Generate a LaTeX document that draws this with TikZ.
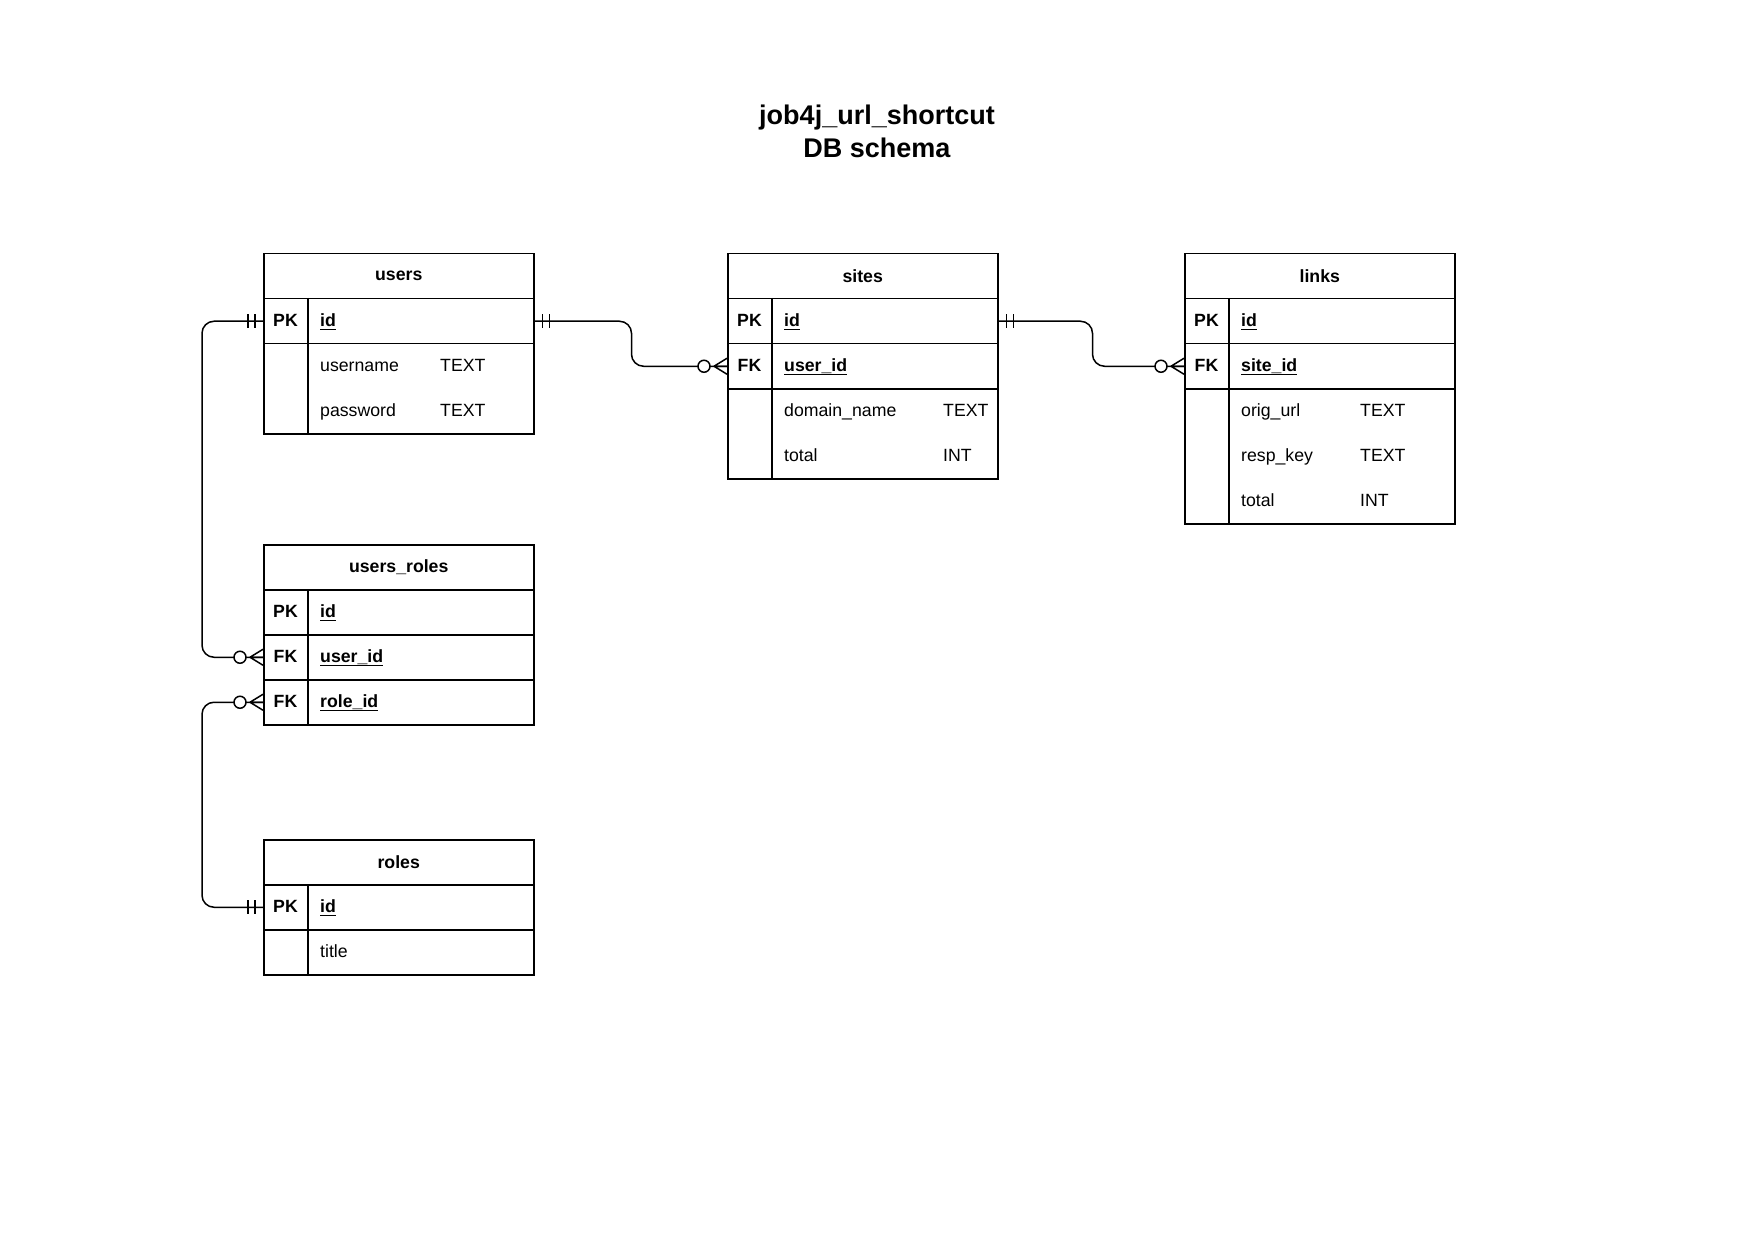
\documentclass[tikz,border=0pt]{standalone}
\usepackage{fontspec}
\setmainfont{Liberation Sans}
\newcommand\tabfont{\fontsize{17.7}{21}\selectfont}
\newcommand\ulx[1]{\setbox0\hbox{#1}\rlap{\rule[-3.6pt]{\wd0}{1.5pt}}\box0}
\newcommand\onemark[2]{\begin{scope}[shift={(#1)},xscale=#2]\draw[conn] (8,-7)--(8,7) (15,-7)--(15,7);\end{scope}}
\newcommand\crowmark[2]{\begin{scope}[shift={(#1)},xscale=#2]\draw[conn] (13,0)--(0,-8) (13,0)--(0,8) (13,0)--(0,0);\draw[conn,fill=white] (23,0) circle[radius=6pt];\end{scope}}
\begin{document}
\begin{tikzpicture}[x=1pt,y=-1pt,
  cell/.style={draw, line width=1.5pt, minimum width=270pt, inner sep=0pt, anchor=north west, font=\tabfont},
  head/.style={cell, minimum height=45pt, font=\tabfont\bfseries},
  key/.style={font=\tabfont\bfseries, inner sep=0pt},
  fld/.style={font=\tabfont, anchor=base west, inner sep=0pt},
  fldb/.style={fld, font=\tabfont\bfseries},
  divider/.style={line width=1.5pt},
  conn/.style={line width=1.5pt}]
\fill[white] (0,0) rectangle (1754,1241);
\useasboundingbox (0,0) rectangle (1754,1241);

\node[font=\bfseries\fontsize{27}{32.5}\selectfont, align=center] (title) at (877,131.5) {job4j\_url\_shortcut\\DB schema};

% users
\node[head] (users) at (263,253) {users};
\node[cell, minimum height=45pt] (usersPK) at (263,298) {};
\node[cell, minimum height=90pt] (usersA) at (263,343) {};
\draw[divider] (308,298) -- (308,433);
\node[key] (usersPKk) at (285.5,320.5) {PK};
\node[fldb] (usersPKf) at (320,326.5) {\ulx{id}};
\node[fld] (usersA1) at (320,371.5) {username};
\node[fld] (usersA1t) at (440,371.5) {TEXT};
\node[fld] (usersA2) at (320,416.5) {password};
\node[fld] (usersA2t) at (440,416.5) {TEXT};

% sites
\node[head] (sites) at (727,253) {sites};
\node[cell, minimum height=45pt] (sitesPK) at (727,298) {};
\node[cell, minimum height=45pt] (sitesFK) at (727,343) {};
\node[cell, minimum height=90pt] (sitesA) at (727,388) {};
\draw[divider] (772,298) -- (772,478);
\node[key] (sitesPKk) at (749.5,320.5) {PK};
\node[fldb] (sitesPKf) at (784,326.5) {\ulx{id}};
\node[key] (sitesFKk) at (749.5,365.5) {FK};
\node[fldb] (sitesFKf) at (784,371.5) {\ulx{user\_id}};
\node[fld] (sitesA1) at (784,416.5) {domain\_name};
\node[fld] (sitesA1t) at (943,416.5) {TEXT};
\node[fld] (sitesA2) at (784,461.5) {total};
\node[fld] (sitesA2t) at (943,461.5) {INT};

% links
\node[head] (links) at (1184,253) {links};
\node[cell, minimum height=45pt] (linksPK) at (1184,298) {};
\node[cell, minimum height=45pt] (linksFK) at (1184,343) {};
\node[cell, minimum height=135pt] (linksA) at (1184,388) {};
\draw[divider] (1229,298) -- (1229,523);
\node[key] (linksPKk) at (1206.5,320.5) {PK};
\node[fldb] (linksPKf) at (1241,326.5) {\ulx{id}};
\node[key] (linksFKk) at (1206.5,365.5) {FK};
\node[fldb] (linksFKf) at (1241,371.5) {\ulx{site\_id}};
\node[fld] (linksA1) at (1241,416.5) {orig\_url};
\node[fld] (linksA1t) at (1360,416.5) {TEXT};
\node[fld] (linksA2) at (1241,461.5) {resp\_key};
\node[fld] (linksA2t) at (1360,461.5) {TEXT};
\node[fld] (linksA3) at (1241,506.5) {total};
\node[fld] (linksA3t) at (1360,506.5) {INT};

% users_roles
\node[head] (ur) at (263,544) {users\_roles};
\node[cell, minimum height=45pt] (urPK) at (263,589) {};
\node[cell, minimum height=45pt] (urFK1) at (263,634) {};
\node[cell, minimum height=45pt] (urFK2) at (263,679) {};
\draw[divider] (308,589) -- (308,724);
\node[key] (urPKk) at (285.5,611.5) {PK};
\node[fldb] (urPKf) at (320,617.5) {\ulx{id}};
\node[key] (urFK1k) at (285.5,656.5) {FK};
\node[fldb] (urFK1f) at (320,662.5) {\ulx{user\_id}};
\node[key] (urFK2k) at (285.5,701.5) {FK};
\node[fldb] (urFK2f) at (320,707.5) {\ulx{role\_id}};

% roles
\node[head] (roles) at (263,839) {roles};
\node[cell, minimum height=45pt] (rolesPK) at (263,884) {};
\node[cell, minimum height=45pt] (rolesA) at (263,929) {};
\draw[divider] (308,884) -- (308,974);
\node[key] (rolesPKk) at (285.5,906.5) {PK};
\node[fldb] (rolesPKf) at (320,912.5) {\ulx{id}};
\node[fld] (rolesA1) at (320,957.5) {title};

% connectors
\draw[conn, rounded corners=12pt] (usersPK.east) -- ++(97,0) |- (sitesFK.west);
\draw[conn, rounded corners=12pt] (sitesPK.east) -- ++(94,0) |- (linksFK.west);
\draw[conn, rounded corners=12pt] (usersPK.west) -- ++(-61,0) |- (urFK1.west);
\draw[conn, rounded corners=12pt] (rolesPK.west) -- ++(-61,0) |- (urFK2.west);

\onemark{usersPK.east}{1}
\crowmark{sitesFK.west}{-1}
\onemark{sitesPK.east}{1}
\crowmark{linksFK.west}{-1}
\onemark{usersPK.west}{-1}
\crowmark{urFK1.west}{-1}
\onemark{rolesPK.west}{-1}
\crowmark{urFK2.west}{-1}
\end{tikzpicture}
\end{document}
